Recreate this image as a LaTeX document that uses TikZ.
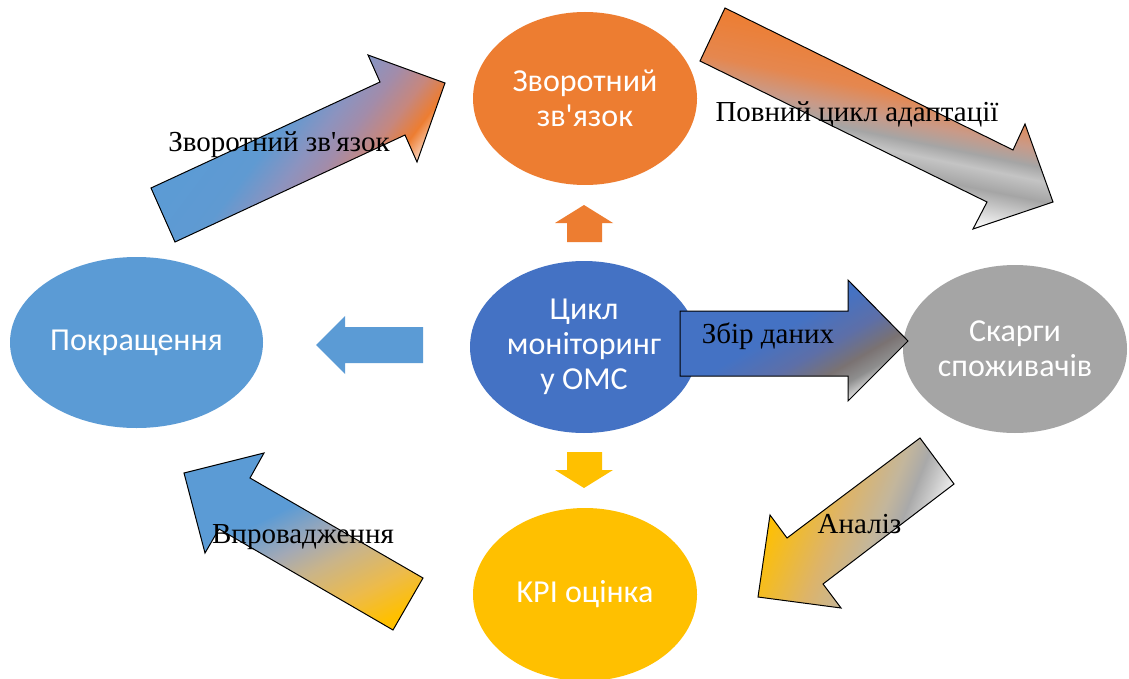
\documentclass[tikz,border=0pt]{standalone}
\usepackage{fontspec}
\newfontfamily\tnrfont{Liberation Serif}
\newfontfamily\calfont{Carlito}
\usetikzlibrary{shapes.geometric}
\definecolor{corange}{HTML}{ED7D31}
\definecolor{cblue}{HTML}{4472C4}
\definecolor{lblue}{HTML}{5B9BD5}
\definecolor{cgray}{HTML}{A5A5A5}
\definecolor{cyellow}{HTML}{FFC000}
% gradient stop colours
\definecolor{aA}{HTML}{5F9AD2}\definecolor{aB}{HTML}{8C93BF}\definecolor{aC}{HTML}{A28CAA}
\definecolor{aD}{HTML}{C6877E}\definecolor{aE}{HTML}{F9D5C0}
\definecolor{bA}{HTML}{E5874F}\definecolor{bB}{HTML}{C99A88}\definecolor{bC}{HTML}{C4C4C4}
\definecolor{cA}{HTML}{5D6FA8}\definecolor{cB}{HTML}{7A7272}\definecolor{cC}{HTML}{8E8E8E}\definecolor{cD}{HTML}{E0E0E0}
\definecolor{dA}{HTML}{F0F0F0}\definecolor{dB}{HTML}{C8C8C8}\definecolor{dC}{HTML}{A9A9A9}
\definecolor{dD}{HTML}{C3B69C}\definecolor{dE}{HTML}{DDB469}
\definecolor{eA}{HTML}{A3A9B5}\definecolor{eB}{HTML}{C9B48A}\definecolor{eC}{HTML}{EDBB4A}
\pgfdeclarehorizontalshading{gA}{100bp}{color(0bp)=(lblue); color(25bp)=(lblue); color(42bp)=(aA); color(51bp)=(aB); color(57bp)=(aC); color(64bp)=(aD); color(70bp)=(corange); color(75bp)=(aE); color(100bp)=(aE)}
\pgfdeclarehorizontalshading{gB}{100bp}{color(0bp)=(corange); color(25bp)=(corange); color(40bp)=(bA); color(47.5bp)=(bB); color(53bp)=(cgray); color(57bp)=(bC); color(63bp)=(cgray); color(75bp)=(white); color(100bp)=(white)}
\pgfdeclarehorizontalshading{gC}{100bp}{color(0bp)=(cblue); color(25bp)=(cblue); color(46bp)=(cblue); color(57bp)=(cA); color(65bp)=(cB); color(70bp)=(cC); color(75bp)=(cD); color(100bp)=(cD)}
\pgfdeclarehorizontalshading{gD}{100bp}{color(0bp)=(dA); color(25bp)=(dA); color(31bp)=(dB); color(36bp)=(dC); color(42.5bp)=(dD); color(55bp)=(dE); color(75bp)=(cyellow); color(100bp)=(cyellow)}
\pgfdeclarehorizontalshading{gE}{100bp}{color(0bp)=(lblue); color(25bp)=(lblue); color(41.5bp)=(lblue); color(50bp)=(eA); color(56bp)=(eB); color(65bp)=(eC); color(72.5bp)=(cyellow); color(100bp)=(cyellow)}
\tikzset{
  bub/.style={ellipse, inner sep=0pt, text=white, align=center,
    font=\calfont\fontsize{32}{35}\selectfont},
  lbl/.style={font=\tnrfont\fontsize{29}{33}\selectfont, text=black, inner sep=0pt, anchor=base},
  arrowline/.style={draw=black, line width=1pt, line join=miter},
}
\newcommand\gradfill[5]{%
  \begin{scope}
    \clip #1;
    \begin{scope}[transform canvas={shift={#3},rotate=#4}]
      \shade[shading=#2] (-#5,-400) rectangle (#5,400);
    \end{scope}
  \end{scope}
  \draw[arrowline] #1;
}
\begin{document}
\begin{tikzpicture}[x=1pt,y=-1pt]
\path[use as bounding box, fill=white] (0,0) rectangle (1129,679);

% small block arrows round the centre
\fill[corange] (584,205) -- (613,223) -- (602,223) -- (602,242) -- (567,242) -- (567,223) -- (555,223) -- cycle;
\fill[cyellow] (584,488) -- (613,470) -- (602,470) -- (602,452) -- (567,452) -- (567,470) -- (555,470) -- cycle;
\fill[lblue] (316,345) -- (345,316) -- (345,327) -- (423,327) -- (423,363) -- (345,363) -- (345,374) -- cycle;

% ellipses
\node[bub, fill=corange, minimum width=224pt, minimum height=173pt] (fb) at (585,98.5) {Зворотний\\зв'язок};
\node[bub, fill=cblue, minimum width=228pt, minimum height=172pt] (mc) at (584,347) {Цикл\\моніторинг\\у ОМС};
\node[bub, fill=lblue, minimum width=253pt, minimum height=171pt] (pk) at (136.5,342.5) {Покращення};
\node[bub, fill=cgray, minimum width=224pt, minimum height=168pt] (sk) at (1015,349) {Скарги\\споживачів};
\node[bub, fill=cyellow, minimum width=224pt, minimum height=173pt] (kp) at (585,594.5) {KPI оцінка};

% large gradient block arrows
\gradfill{(175,242) -- (151,188) -- (380,82) -- (368,55) -- (445,83) -- (417,162) -- (405,135) -- cycle}{gA}{(301.8,151.3)}{-36.87}{98.6}
\gradfill{(725,8) -- (700,61) -- (987,202) -- (973,229) -- (1053,202) -- (1025,124) -- (1013,150) -- cycle}{gB}{(875.5,123.6)}{-101.5}{83}
\gradfill{(680,311) -- (848,311) -- (848,280) -- (908,341) -- (848,401) -- (848,376) -- (680,376) -- cycle}{gC}{(793,338.9)}{-60}{81}
\gradfill{(920,438) -- (954,484) -- (823,584) -- (841,608) -- (758,597) -- (770,515) -- (787,538) -- cycle}{gD}{(853.2,521.9)}{158.1}{79.5}
\gradfill{(393,630) -- (423,578) -- (250,478) -- (264,453) -- (184,473) -- (205,553) -- (219,529) -- cycle}{gE}{(304.4,543.4)}{-63.2}{117.2}

% labels
\node[lbl] (l1) at (279,152) {Зворотний зв'язок};
\node[lbl] (l2) at (857,122) {Повний цикл адаптації};
\node[lbl] (l3) at (768,343) {Збір даних};
\node[lbl] (l4) at (859.5,533) {Аналіз};
\node[lbl] (l5) at (303,543) {Впровадження};
\end{tikzpicture}
\end{document}
